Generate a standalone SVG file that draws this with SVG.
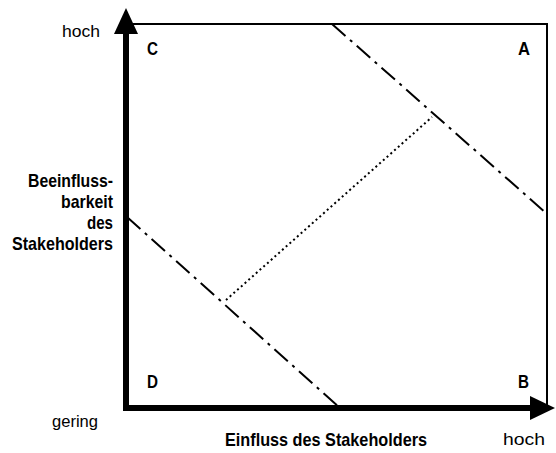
<svg xmlns="http://www.w3.org/2000/svg" width="556" height="453" viewBox="0 0 556 453">
<style>
.axis{stroke:#000;stroke-width:6;fill:none}
.box{stroke:#000;stroke-width:2;fill:none}
.dd{stroke:#000;stroke-width:2;fill:none;stroke-dasharray:18 6 3 6}
.dot{stroke:#000;stroke-width:2;fill:none;stroke-dasharray:2 3}
.t{font-family:"Liberation Sans",Arial,sans-serif;font-size:16px;fill:#000}
.b{font-family:"Liberation Sans",Arial,sans-serif;font-size:19px;font-weight:bold;fill:#000}
.q{font-family:"Liberation Sans",Arial,sans-serif;font-size:18px;font-weight:bold;fill:#000}
</style>
<rect width="556" height="453" fill="#fff"/>
<g id="connectors">
<polyline class="box" points="127,24 547,24 547,408"/>
<line class="dd" x1="332" y1="24" x2="546" y2="213"/>
<line class="dd" x1="127" y1="217" x2="340" y2="408"/>
<line class="dot" x1="226" y1="300" x2="432" y2="117"/>
</g>
<g id="axes">
<line class="axis" x1="126" y1="411" x2="126" y2="30"/>
<polygon points="126,8 114,34 138,34" fill="#000"/>
<line class="axis" x1="123" y1="408" x2="533" y2="408"/>
<polygon points="555,408 530,396 530,420" fill="#000"/>
</g>
<g id="quadrant-C"><text class="q" x="147" y="55" textLength="11" lengthAdjust="spacingAndGlyphs">C</text></g>
<g id="quadrant-A"><text class="q" x="518" y="55" textLength="12" lengthAdjust="spacingAndGlyphs">A</text></g>
<g id="quadrant-D"><text class="q" x="147" y="388" textLength="11" lengthAdjust="spacingAndGlyphs">D</text></g>
<g id="quadrant-B"><text class="q" x="518" y="388" textLength="11" lengthAdjust="spacingAndGlyphs">B</text></g>
<g id="labels">
<text class="t" x="62" y="37" textLength="38" lengthAdjust="spacingAndGlyphs">hoch</text>
<text class="t" x="52" y="427" textLength="46" lengthAdjust="spacingAndGlyphs">gering</text>
<text class="t" x="503" y="445" textLength="42" lengthAdjust="spacingAndGlyphs">hoch</text>
<text class="b" x="225" y="446" textLength="202" lengthAdjust="spacingAndGlyphs">Einfluss des Stakeholders</text>
<text class="b" text-anchor="end" x="113" y="187" textLength="85" lengthAdjust="spacingAndGlyphs">Beeinfluss-</text>
<text class="b" text-anchor="end" x="113" y="208" textLength="52" lengthAdjust="spacingAndGlyphs">barkeit</text>
<text class="b" text-anchor="end" x="113" y="229" textLength="26" lengthAdjust="spacingAndGlyphs">des</text>
<text class="b" text-anchor="end" x="113" y="250" textLength="101" lengthAdjust="spacingAndGlyphs">Stakeholders</text>
</g>
</svg>
